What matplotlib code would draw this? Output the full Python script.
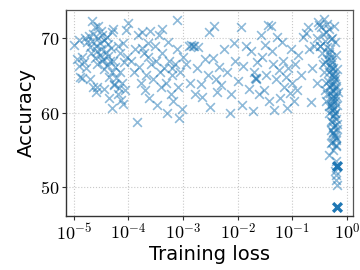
import matplotlib
matplotlib.use("Agg")
import matplotlib.pyplot as plt
import numpy as np

plt.rcParams['mathtext.fontset'] = 'cm'
plt.rcParams['font.family'] = ['DejaVu Sans']

# log10(training loss) and accuracy for each run
log_loss = [
    # 1e-5 .. 1e-4
    -5.0, -4.91, -4.67, -4.55, -4.29, -4.05, -4.0,
    -4.85, -4.82, -4.78, -4.88, -4.75, -4.72, -4.7, -4.68, -4.66, -4.64, -4.62, -4.6, -4.58,
    -4.57, -4.55, -4.53, -4.52, -4.5, -4.49, -4.48, -4.46, -4.45, -4.44, -4.42, -4.4, -4.38,
    -4.37, -4.35, -4.34, -4.32, -4.3, -4.28, -4.26, -4.25, -4.22, -4.2, -4.18, -4.15, -4.12,
    -4.1, -4.08, -4.06, -4.03, -4.65, -4.6, -4.7, -4.8, -4.95, -4.9, -4.62, -4.5, -4.4, -4.3,
    -4.2, -4.15, -4.1, -4.31, -4.35, -4.45, -4.85, -4.58, -4.27, -4.13,
    # 1e-4 .. 1e-3
    -3.95, -3.9, -3.88, -3.85, -3.82, -3.8, -3.78, -3.75, -3.72, -3.7, -3.68, -3.65, -3.62,
    -3.6, -3.58, -3.55, -3.52, -3.5, -3.48, -3.45, -3.42, -3.4, -3.38, -3.35, -3.32, -3.3,
    -3.28, -3.25, -3.22, -3.2, -3.18, -3.15, -3.12, -3.11, -3.1, -3.08, -3.05, -3.02, -3.0,
    -3.76, -3.65, -3.38, -3.2,
    # 1e-3 .. 1e-2
    -2.95, -2.9, -2.88, -2.85, -2.82, -2.8, -2.78, -2.75, -2.72, -2.68, -2.65, -2.6, -2.55,
    -2.53, -2.5, -2.45, -2.44, -2.4, -2.38, -2.35, -2.3, -2.25, -2.2, -2.15, -2.12, -2.07,
    -2.05, -2.0, -1.95, -1.93, -1.9, -1.85, -1.8, -1.75, -1.72, -1.7, -1.68, -1.67, -1.66,
    -1.65, -1.62,
    # 1e-2 .. 3e-1
    -1.58, -1.55, -1.52, -1.5, -1.48, -1.45, -1.43, -1.4, -1.38, -1.35, -1.33, -1.3, -1.28,
    -1.25, -1.22, -1.2, -1.18, -1.15, -1.12, -1.1, -1.08, -1.05, -1.02, -1.0, -0.98, -0.95,
    -0.92, -0.9, -0.85, -0.8, -0.76, -0.72, -0.7, -0.67, -0.65, -0.6, -0.55, -0.52,
    # column near loss ~ 0.5
    -0.53, -0.48, -0.43, -0.56, -0.5, -0.38, -0.33, -0.28, -0.46, -0.36, -0.23, -0.3, -0.41,
    -0.26, -0.2, -0.34, -0.28, -0.23, -0.38, -0.18, -0.32, -0.26, -0.2, -0.36, -0.28, -0.22,
    -0.3, -0.24, -0.18, -0.33, -0.26, -0.2, -0.28, -0.23, -0.3, -0.18, -0.25, -0.21, -0.28,
    -0.2, -0.25, -0.34, -0.3, -0.2, -0.21, -0.2, -0.2, -0.19, -0.22, -0.24, -0.16, -0.27,
    -0.31, -0.43, -0.4, -0.25, -0.22, -0.19, -0.27, -0.24, -0.3, -0.26, -0.22, -0.27, -0.24,
    -0.36, -0.32, -0.27, -0.23, -0.35, -0.3, -0.25, -0.21, -0.38, -0.33, -0.28, -0.24,
    -0.34, -0.29, -0.25, -0.2, -0.31, -0.27, -0.23, -0.29, -0.25, -0.21, -0.26, -0.22,
    -0.45, -0.4, -0.37, -0.5, -0.44, -0.29, -0.24, -0.33,
]
accuracy = [
    69.1, 69.8, 72.3, 71.7, 71.2, 71.1, 72.0,
    67.5, 66.8, 66.0, 64.8, 69.5, 70.3, 68.8, 68.0, 69.6, 70.6, 67.4, 69.0, 68.3,
    66.5, 70.0, 69.3, 67.8, 68.6, 66.9, 70.4, 67.2, 69.8, 65.8, 68.1, 66.4, 67.6,
    69.2, 64.8, 66.9, 68.7, 65.5, 67.0, 63.8, 66.2, 64.6, 62.5, 63.3, 65.4, 64.0,
    61.2, 66.8, 63.0, 67.5, 63.5, 62.8, 64.5, 70.1, 67.2, 66.3, 71.5, 71.0, 70.2, 70.8,
    69.0, 68.0, 69.4, 60.6, 62.0, 63.2, 64.6, 63.4, 63.7, 61.7,
    67.0, 65.5, 68.5, 58.7, 70.4, 66.2, 64.0, 70.8, 68.0, 63.0, 65.0, 67.5, 62.0,
    71.0, 66.5, 64.5, 69.0, 67.0, 61.0, 70.5, 65.5, 63.5, 68.0, 66.0, 64.0, 60.0,
    69.5, 67.0, 62.5, 65.0, 61.5, 66.5, 68.5, 72.4, 63.5, 59.3, 65.5, 60.5, 67.5,
    68.7, 69.3, 71.3, 66.0,
    66.5, 69.0, 64.0, 69.1, 68.9, 69.0, 62.5, 66.0, 68.8, 63.8, 62.1, 67.2, 65.0,
    70.8, 60.7, 67.3, 71.7, 64.5, 62.8, 66.1, 63.7, 68.5, 65.5, 60.0, 62.5, 69.3,
    67.0, 64.2, 71.5, 61.0, 66.3, 68.9, 63.2, 68.3, 60.2, 65.5, 64.6, 64.7, 64.5,
    66.8, 62.5,
    70.5, 67.5, 63.0, 69.1, 65.0, 71.8, 61.5, 71.6, 68.3, 66.5, 60.3, 64.5, 70.2,
    65.7, 62.0, 69.5, 67.0, 63.4, 64.8, 60.6, 66.0, 62.6, 68.5, 64.0, 61.5, 66.5,
    63.0, 67.8, 65.0, 70.2, 70.7, 71.5, 68.5, 61.4, 66.0, 69.0, 64.0, 71.8,
    72.2, 71.5, 72.6, 70.0, 69.0, 70.8, 71.2, 70.0, 68.0, 68.8, 69.5, 67.5, 66.8,
    66.0, 67.8, 65.5, 65.0, 64.5, 64.0, 65.8, 63.5, 63.0, 63.6, 62.5, 62.0, 61.5,
    61.0, 60.5, 61.0, 60.0, 59.6, 59.2, 58.8, 58.3, 57.7, 57.8, 57.2, 56.6, 56.0,
    55.5, 55.0, 54.3, 55.9, 55.7, 53.5, 51.6, 50.9, 50.3, 52.2, 64.2, 62.8, 66.8,
    68.5, 65.5, 63.0, 62.3, 60.0, 58.5, 61.5, 64.8, 66.2, 63.8, 62.0, 60.8, 57.0,
    67.2, 66.4, 65.9, 64.9, 64.3, 63.7, 62.9, 62.2, 61.6, 60.9, 60.3, 59.7,
    68.2, 67.1, 65.3, 63.3, 62.7, 61.2, 59.9, 58.9, 57.4, 56.3, 58.1, 56.9,
    70.6, 69.6, 71.9, 68.9, 66.6, 69.9, 71.6, 67.9,
]
# highlighted runs
best_log_loss = [-0.18, -0.19]
best_accuracy = [52.8, 47.3]

xticks = [1e-5, 1e-4, 1e-3, 1e-2, 1e-1, 1e0]
yticks = [50, 60, 70]

fig = plt.figure(figsize=(3.6, 2.7), dpi=100)
ax = fig.add_axes([0.183, 0.2, 0.798, 0.763])

ax.scatter(10.0 ** np.array(log_loss), accuracy, marker='x', s=40,
           color='#1f77b4', alpha=0.5, linewidths=1.2, zorder=3)
ax.scatter(10.0 ** np.array(best_log_loss), best_accuracy, marker='x', s=40,
           color='#1f77b4', alpha=1.0, linewidths=2.4, zorder=4)

ax.set_xscale('log')
ax.set_xlim(10 ** -5.145, 10 ** 0.11)
ax.set_ylim(46.1, 73.8)
ax.set_xticks(xticks)
ax.set_xticklabels([r'$10^{%d}$' % int(round(np.log10(t))) for t in xticks])
ax.xaxis.set_minor_locator(matplotlib.ticker.NullLocator())
ax.set_yticks(yticks)
ax.set_yticklabels([r'$%d$' % t for t in yticks])

ax.grid(True, linestyle=':', color='#c8c8c8', linewidth=0.8)
ax.set_axisbelow(True)
for side in ['top', 'right']:
    ax.spines[side].set_color('#555555')
    ax.spines[side].set_linewidth(0.9)
for side in ['left', 'bottom']:
    ax.spines[side].set_color('#333333')
    ax.spines[side].set_linewidth(1.0)
ax.tick_params(axis='both', direction='out', length=3, width=0.8,
               color='#333333', labelsize=13, pad=2)

ax.set_xlabel('Training loss', fontsize=14, labelpad=1)
ax.set_ylabel('Accuracy', fontsize=14, labelpad=3)

fig.savefig('out.png', dpi=100)
